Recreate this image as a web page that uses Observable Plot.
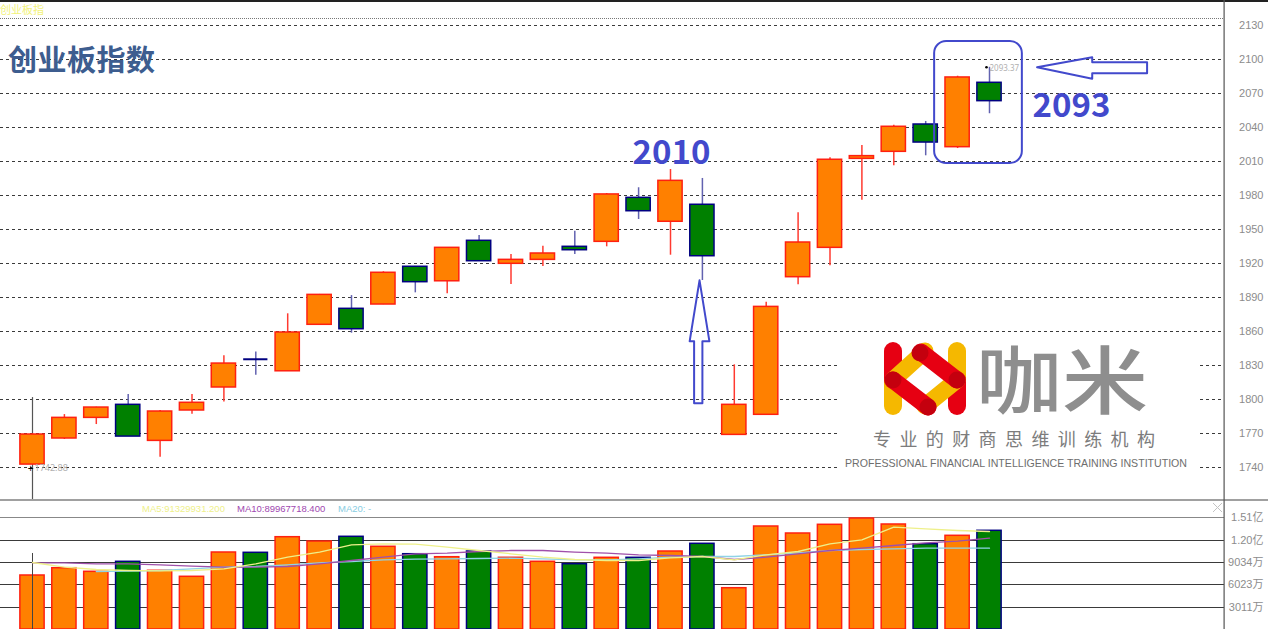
<!DOCTYPE html>
<html><head><meta charset="utf-8">
<script src="https://cdn.jsdelivr.net/npm/d3@7"></script>
<script src="https://cdn.jsdelivr.net/npm/@observablehq/plot@0.6"></script>
<style>
html,body{margin:0;padding:0;background:#fff;}
#wrap{position:relative;width:1268px;height:629px;overflow:hidden;background:#fff;font-family:"Liberation Sans",Arial,sans-serif;}
#wrap > svg{position:absolute;left:0;}
.t{position:absolute;white-space:nowrap;line-height:1;}
</style></head><body><div id="wrap"></div>
<script>
// ---- data (one candle per period, left to right) ----
const openP  = [1742.9,1765.9,1784.1,1795.6,1763.8,1790.6,1810.9,1835.8,1825.2,1866.2,1880.3,1884.1,1917.4,1904.6,1940.3,1920.0,1923.5,1935.0,1939.4,1978.2,1957.1,1972.1,1769.1,1786.8,1908.2,1934.1,2012.6,2018.8,2042.9,2022.9,2079.7];
const highP  = [1770.0,1787.0,1793.5,1804.7,1790.5,1804.7,1839.0,1842.3,1875.9,1893.0,1892.0,1913.0,1917.5,1934.5,1945.0,1928.2,1935.5,1948.8,1982.0,1987.1,2003.2,1995.3,1830.9,1886.1,1965.0,2013.5,2024.4,2042.3,2045.6,2085.5,2093.37];
const lowP   = [1742.88,1765.0,1778.2,1767.6,1749.4,1787.3,1798.0,1821.7,1825.0,1866.0,1858.8,1884.0,1894.4,1893.5,1922.0,1901.7,1917.6,1928.2,1935.0,1959.1,1927.6,1905.3,1769.0,1786.8,1901.5,1918.2,1976.1,2006.5,2015.3,2021.7,2052.4];
const closeP = [1769.4,1784.1,1793.2,1767.6,1789.7,1797.4,1832.0,1835.8,1859.4,1892.6,1862.3,1912.1,1903.8,1934.1,1922.3,1923.5,1929.1,1932.0,1981.2,1966.4,1993.2,1926.7,1795.6,1882.0,1938.8,2011.8,2015.0,2040.9,2027.0,2084.4,2063.5];
// volume in 万 (10k)
const volume = [7275,8258,7773,9120,7908,7100,10373,10333,12435,11855,12489,11141,10144,9740,10508,9659,9120,8797,9659,9659,10508,11545,5564,13876,12933,14105,14954,14146,11491,12623,13297];
const ma5  = [9026,8393,8083,7948,7908,7948,8177,8851,9740,10414,11411,11545,11491,11087,10643,10198,9740,9430,9296,9296,9659,9835,9390,10064,10508,11545,12084,13782,13566,13337,13203];
const ma10 = [8986,8986,8851,8851,8716,8528,8393,8393,8487,8851,9296,9740,10198,10279,10508,10643,10643,10414,10279,10064,9969,9835,9430,9740,10198,10643,10953,11316,11680,11896,12300];
const ma20 = [null,null,7814,7855,7948,8177,8393,8487,8716,8986,9161,9390,9471,9525,9565,9606,9525,9390,9390,9525,9740,9835,9835,10064,10333,10643,10778,10872,10953,10953,10953];
const priceTicks = [1740,1770,1800,1830,1860,1890,1920,1950,1980,2010,2040,2070,2100,2130];
const volTicks = [3011,6023,9034,12045,15057];
const volTickLabels = ["3011万","6023万","9034万","1.20亿","1.51亿"];
const title = "创业板指数";
const headerLabel = "创业板指";
const maLabels = ["MA5:91329931.200","MA10:89967718.400","MA20: -"];
const lowMark = {i: 0, p: 1742.88, t: "1742.88"};
const highMark = {i: 30, p: 2093.37, t: "2093.37"};
const callouts = [{i: 20.03, p: 2008.5, t: "2010"}, {i: 32.57, p: 2049.1, t: "2093"}];
const box = [{x1: 28.28, x2: 31.03, y1: 2008.5, y2: 2116.2}];
const arrowLeft = [[31.49,2093.5],[33.22,2102.3],[33.22,2097.9],[34.94,2097.9],[34.94,2088.2],[33.22,2088.2],[33.22,2083.3],[31.49,2093.5]];
const arrowUp = [[20.91,1905.4],[21.22,1851.6],[21.0,1851.6],[21.0,1796.9],[20.74,1796.9],[20.74,1851.6],[20.60,1851.6],[20.91,1905.4]];

// ---- build ----
const candles = openP.map((o,i)=>({i,o,h:highP[i],l:lowP[i],c:closeP[i],v:volume[i],up:closeP[i]>o,
  m5:ma5[i],m10:ma10[i],m20:ma20[i]}));
const dojis = candles.filter(d=>Math.abs(d.o-d.c)<0.5);
const W=1268, AX=1224, STEP=31.9, X0=32;
const xDomain=[-X0/STEP,(AX-X0)/STEP];
const UP_FILL="#ff8000", UP_LINE="#ff2010", UP_WICK="#ff3a30", DN_FILL="#008000", DN_LINE="#000080", DN_WICK="#6262b0";
const HW=0.38;
const BLUE="#4249cc";

const main = Plot.plot({
  width:W, height:500, marginLeft:0, marginRight:W-AX, marginTop:0, marginBottom:0,
  x:{type:"linear", domain:xDomain, axis:null},
  y:{domain:[1711.2,2152.3], axis:null},
  color:{type:"identity"},
  style:{background:"transparent", overflow:"visible"},
  marks:[
    Plot.ruleY(priceTicks,{stroke:"#3a3a3a",strokeDasharray:"3,3",strokeWidth:1,shapeRendering:"crispEdges"}),
    Plot.text(priceTicks,{y:d=>d,text:d=>String(d),frameAnchor:"right",dx:39,textAnchor:"end",fill:"#8c8c8c",fontSize:11,fontFamily:"Liberation Sans Narrow, Liberation Sans, sans-serif"}),
    Plot.ruleX([lowMark],{x:"i",y1:1711.2,y2:1802,stroke:"#555",strokeWidth:1.2}),
    Plot.ruleX(candles,{x:"i",y1:"l",y2:"h",stroke:d=>d.up?UP_WICK:DN_WICK,strokeWidth:1.5}),
    Plot.rect(candles,{x1:d=>d.i-HW,x2:d=>d.i+HW,y1:"o",y2:"c",fill:d=>d.up?UP_FILL:DN_FILL,stroke:d=>d.up?UP_LINE:DN_LINE,strokeWidth:1.5}),
    Plot.ruleY(dojis,{x1:d=>d.i-HW,x2:d=>d.i+HW,y:"o",stroke:DN_LINE,strokeWidth:2}),
    Plot.text([lowMark],{x:"i",y:"p",text:d=>"+",dx:-2,dy:4,fill:"#000",fontSize:10}),
    Plot.text([lowMark],{x:"i",y:"p",text:"t",dx:2,dy:4,textAnchor:"start",fill:"#b0b0b0",fontSize:9}),
    Plot.dot([highMark],{x:"i",y:"p",dx:-3,r:1.3,fill:"#000"}),
    Plot.text([highMark],{x:"i",y:"p",text:"t",dx:0,dy:1,textAnchor:"start",fill:"#b0b0b0",fontSize:8}),
    Plot.text(callouts,{x:"i",y:"p",text:"t",lineAnchor:"bottom",fill:BLUE,fontSize:33,fontWeight:"bold",fontFamily:"Noto Sans CJK SC, sans-serif"}),
    Plot.rect(box,{x1:"x1",x2:"x2",y1:"y1",y2:"y2",rx:12,fill:"none",stroke:BLUE,strokeWidth:2}),
    Plot.line(arrowLeft,{x:d=>d[0],y:d=>d[1],stroke:BLUE,strokeWidth:2,fill:"none"}),
    Plot.line(arrowUp,{x:d=>d[0],y:d=>d[1],stroke:BLUE,strokeWidth:2,fill:"none"})
  ]
});
main.style.top="0px";

const vol = Plot.plot({
  width:W, height:129, marginLeft:0, marginRight:W-AX, marginTop:0, marginBottom:0,
  x:{type:"linear", domain:xDomain, axis:null},
  y:{domain:[0,17379], axis:null},
  color:{type:"identity"},
  style:{background:"transparent", overflow:"visible"},
  marks:[
    Plot.ruleY(volTicks,{stroke:d=>d===15057?"#888":"#3a3a3a",strokeDasharray:d=>d===15057?"1,1":"3,3",shapeRendering:"crispEdges"}),
    Plot.text(volTicks,{y:d=>d,text:(d,i)=>volTickLabels[i],frameAnchor:"right",dx:39,textAnchor:"end",fill:"#8c8c8c",fontSize:11,fontFamily:"Liberation Sans Narrow, Liberation Sans, Noto Sans CJK SC, sans-serif"}),
    Plot.rect(candles,{x1:d=>d.i-HW,x2:d=>d.i+HW,y1:0,y2:"v",fill:d=>d.up?UP_FILL:DN_FILL,stroke:d=>d.up?UP_LINE:DN_LINE,strokeWidth:1.5}),
    Plot.ruleX([lowMark],{x:"i",y1:0,y2:10239,stroke:"#444",strokeWidth:1}),
    Plot.line(candles,{x:"i",y:"m20",stroke:"#8fd3e6",strokeWidth:1.3}),
    Plot.line(candles,{x:"i",y:"m10",stroke:"#a050aa",strokeWidth:1.3}),
    Plot.line(candles,{x:"i",y:"m5",stroke:"#eef08a",strokeWidth:1.3})
  ]
});
vol.style.top="500px";

const wrap=document.getElementById("wrap");
wrap.appendChild(main);
wrap.appendChild(vol);

// chrome + watermark overlay
const ns="http://www.w3.org/2000/svg";
const ov=document.createElementNS(ns,"svg");
ov.setAttribute("width",W);ov.setAttribute("height",629);
ov.style.position="absolute";ov.style.top="0";ov.style.left="0";
ov.innerHTML=`
<rect x="840" y="336" width="360" height="142" fill="#fff"/>
<line x1="893" y1="380" x2="893" y2="406" stroke="#f5b800" stroke-width="18" stroke-linecap="round"/>
<line x1="893" y1="351" x2="893" y2="380" stroke="#e60012" stroke-width="18" stroke-linecap="round"/>
<line x1="957" y1="351" x2="957" y2="380" stroke="#f5b800" stroke-width="18" stroke-linecap="round"/>
<line x1="957" y1="380" x2="957" y2="406" stroke="#e60012" stroke-width="18" stroke-linecap="round"/>
<line x1="893" y1="380" x2="925" y2="351" stroke="#f5b800" stroke-width="17" stroke-linecap="round"/>
<line x1="925" y1="406" x2="957" y2="380" stroke="#f5b800" stroke-width="17" stroke-linecap="round"/>
<line x1="921" y1="352" x2="957" y2="380" stroke="#e60012" stroke-width="17" stroke-linecap="round"/>
<line x1="893" y1="380" x2="928" y2="407" stroke="#e60012" stroke-width="17" stroke-linecap="round"/>
<circle cx="920" cy="353" r="8.5" fill="#c4000e"/>
<circle cx="957" cy="380" r="8.5" fill="#c4000e"/>
<circle cx="893" cy="380" r="8.5" fill="#c4000e"/>
<circle cx="928" cy="407" r="8.5" fill="#c4000e"/>
<text x="976" y="408" font-family="Noto Sans CJK SC" font-size="74" font-weight="500" fill="#8e8e8e" textLength="172" lengthAdjust="spacingAndGlyphs">咖米</text>
<text x="873" y="446" font-family="Noto Sans CJK SC" font-size="18" fill="#7c7c7c" textLength="282" lengthAdjust="spacing">专业的财商思维训练机构</text>
<text x="845" y="467" font-family="Liberation Sans" font-size="11.5" fill="#6e6e6e" textLength="342" lengthAdjust="spacingAndGlyphs">PROFESSIONAL FINANCIAL INTELLIGENCE TRAINING INSTITUTION</text>
<rect x="0" y="0" width="${W}" height="2" fill="#222"/>
<line x1="0" y1="18.5" x2="${AX}" y2="18.5" stroke="#777" stroke-dasharray="1,1"/>
<rect x="0" y="499" width="${W}" height="2" fill="#a0a0a0"/>
<rect x="${AX-0.5}" y="0" width="1.2" height="629" fill="#555"/>
<line x1="1213" y1="503" x2="1222" y2="512" stroke="#c4c4c4"/>
<line x1="1222" y1="503" x2="1213" y2="512" stroke="#c4c4c4"/>
`;
wrap.appendChild(ov);

function addText(txt,left,top,css){const d=document.createElement("div");d.className="t";d.textContent=txt;d.style.left=left+"px";d.style.top=top+"px";Object.assign(d.style,css);wrap.appendChild(d);}
addText(headerLabel,0,4,{fontSize:"11px",color:"#f2f27a",fontFamily:"Noto Sans CJK SC"});
addText(title,8,44,{fontSize:"29px",fontWeight:"bold",color:"#3d5d8f",fontFamily:"Noto Sans CJK SC",letterSpacing:"0.5px"});
const maColors=["#eef08a","#a048b0","#88cde2"], maLeft=[142,237,338];
maLabels.forEach((t,k)=>addText(t,maLeft[k],504,{fontSize:"9.5px",color:maColors[k]}));
</script>
</body></html>
